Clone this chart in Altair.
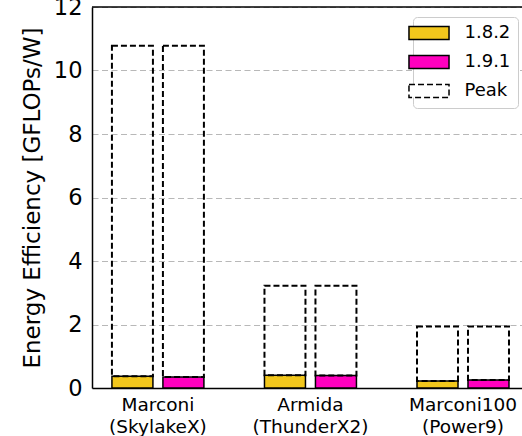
import altair as alt
import pandas as pd

# Systems (two-line tick labels), library versions and measured efficiency
systems = ["Marconi\n(SkylakeX)", "Armida\n(ThunderX2)", "Marconi100\n(Power9)"]
versions = ["1.8.2", "1.9.1"]
eff_182 = [0.37, 0.40, 0.22]
eff_191 = [0.35, 0.39, 0.25]
peak = [10.78, 3.22, 1.94]
y_ticks = [0, 2, 4, 6, 8, 10, 12]
y_max = [12]

version_colors = ["#f2c71c", "#ff00bf"]
peak_label = "Peak"
series = versions + [peak_label]

rows = []
for i, s in enumerate(systems):
    for v, vals in zip(versions, [eff_182, eff_191]):
        rows.append({"system": s, "version": v, "eff": vals[i], "peak": peak[i]})
df = pd.DataFrame(rows)

FONT = "DejaVu Sans"

x_enc = alt.X(
    "system:N",
    sort=systems,
    title=None,
    scale=alt.Scale(paddingInner=0.397, paddingOuter=0.108, align=0.605),
    axis=alt.Axis(
        labelAngle=0,
        labelExpr="split(datum.label, '\\n')",
        labelFontSize=18.5,
        labelLineHeight=22,
        labelColor="black",
        labelPadding=7,
        ticks=False,
        domainColor="black",
        domainWidth=1.5,
        grid=False,
    ),
)
xo_enc = alt.XOffset(
    "version:N", sort=versions, scale=alt.Scale(paddingInner=0.196, paddingOuter=0)
)
y_scale = alt.Scale(domain=[0, 12], nice=False)

# Wide rectangular swatch: nominal symbol size 13px, path stretched horizontally
legend = alt.Legend(
    title=None,
    orient="none",
    legendX=321,
    legendY=10,
    symbolType="M-3.08,-1H3.08V1H-3.08Z",
    symbolSize=169,
    symbolStrokeColor="black",
    symbolStrokeWidth=1.5,
    symbolOpacity=1,
    labelFontSize=18,
    labelColor="black",
    labelAlign="left",
    labelOffset=26.5,
    rowPadding=9,
    padding=7,
    strokeColor="#cccccc",
    fillColor="white",
    cornerRadius=4,
)
color_enc = alt.Color(
    "series:N",
    scale=alt.Scale(domain=series, range=version_colors + ["white"]),
    legend=legend,
)
stroke_enc = alt.Stroke(
    "series:N",
    scale=alt.Scale(domain=series, range=["black", "black", "black"]),
    legend=legend,
)
dash_enc = alt.StrokeDash(
    "series:N",
    scale=alt.Scale(domain=series, range=[[1, 0], [1, 0], [6, 3]]),
    legend=legend,
)

bars = (
    alt.Chart(df)
    .transform_calculate(series="datum.version")
    .mark_bar(strokeWidth=1.5)
    .encode(
        x=x_enc,
        xOffset=xo_enc,
        y=alt.Y(
            "eff:Q",
            scale=y_scale,
            title="Energy Efficiency [GFLOPs/W]",
            axis=alt.Axis(
                values=y_ticks,
                labelFontSize=22.5,
                labelColor="black",
                labelPadding=10,
                ticks=False,
                domainColor="black",
                domainWidth=1.5,
                grid=True,
                gridColor="#b8b8b8",
                gridDash=[6, 3.5],
                gridWidth=1.2,
                titleFontSize=23,
                titleFontWeight="normal",
                titleColor="black",
                titlePadding=9,
            ),
        ),
        color=color_enc,
        stroke=stroke_enc,
        strokeDash=dash_enc,
    )
)

# Dashed outline from measured value up to theoretical peak
peaks = (
    alt.Chart(df)
    .transform_calculate(series="'Peak'")
    .mark_bar(fillOpacity=0, strokeWidth=2)
    .encode(
        x=x_enc,
        xOffset=xo_enc,
        y=alt.Y("eff:Q", scale=y_scale),
        y2="peak:Q",
        color=color_enc,
        stroke=stroke_enc,
        strokeDash=dash_enc,
    )
)

top_line = alt.Chart(pd.DataFrame({"top": y_max})).mark_rule(
    color="black", strokeWidth=1.5
).encode(y=alt.Y("top:Q", scale=y_scale))

chart = (
    alt.layer(bars, peaks, top_line)
    .properties(
        width=430,
        height=381,
        autosize=alt.AutoSizeParams(type="none"),
        padding={"left": 92, "top": 7, "right": 0, "bottom": 48},
    )
    .configure(font=FONT)
    .configure_view(stroke=None)
)

chart.save("out.html", embed_options={"renderer": "svg", "actions": False})
